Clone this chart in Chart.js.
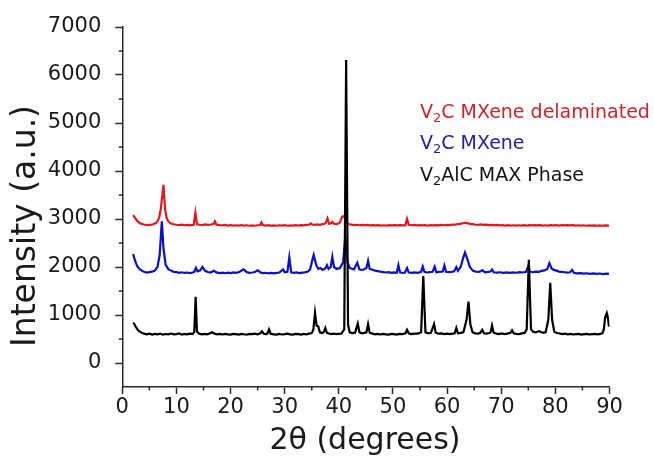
<!DOCTYPE html>
<html>
<head>
<meta charset="utf-8">
<script src="https://cdn.jsdelivr.net/npm/chart.js@4"></script>
<style>
  html, body { margin: 0; padding: 0; background: #fff; }
  canvas { display: block; }
</style>
</head>
<body>
<canvas id="xrd" width="654" height="459"></canvas>
<script>
// XRD patterns as [2θ (degrees), intensity (a.u.)] pairs, one list per sample.

// V2AlC MAX phase
const maxPattern = [
  [2.0,840],[2.2,815],[2.4,770],[2.6,735],[2.8,700],[3.0,672],[3.3,648],[3.6,628],[4.0,612],[4.5,598],
  [5.0,610],[5.5,592],[6.0,606],[6.5,596],[7.0,612],[7.5,590],[8.0,604],[8.5,597],[9.0,614],[9.5,598],
  [10.0,603],[10.5,615],[11.0,594],[11.5,606],[12.0,598],[12.5,612],[13.0,605],[13.3,650],[13.55,1380],[13.8,650],
  [14.2,612],[14.7,598],[15.2,606],[15.7,596],[16.2,618],[16.6,640],[17.0,612],[17.5,598],[18.0,607],[18.5,594],
  [19.0,608],[19.5,598],[20.0,592],[20.5,606],[21.0,600],[21.5,591],[22.0,607],[22.5,599],[23.0,593],[23.5,608],
  [24.0,600],[24.5,612],[25.0,598],[25.5,620],[25.8,660],[26.1,612],[26.5,598],[26.8,612],[27.1,700],[27.4,610],
  [28.0,598],[28.5,592],[29.0,606],[29.5,594],[30.0,602],[30.5,612],[31.0,598],[31.5,592],[32.0,607],[32.5,600],
  [33.0,591],[33.5,606],[34.0,598],[34.5,612],[35.0,622],[35.3,700],[35.6,1050],[35.9,780],[36.2,760],[36.5,640],
  [36.9,625],[37.2,640],[37.5,730],[37.8,630],[38.2,615],[38.6,604],[39.0,612],[39.5,600],[40.0,608],[40.5,615],
  [41.0,700],[41.35,6310],[41.7,800],[42.0,640],[42.5,622],[43.0,632],[43.5,820],[43.8,640],[44.2,618],[44.7,628],
  [45.1,640],[45.4,810],[45.7,630],[46.2,612],[46.7,598],[47.2,607],[47.7,594],[48.2,606],[48.7,598],[49.2,592],
  [49.7,606],[50.2,600],[50.7,593],[51.2,607],[51.7,600],[52.3,620],[52.6,690],[52.9,620],[53.4,602],[54.0,610],
  [54.6,612],[55.2,640],[55.6,1810],[56.0,640],[56.5,618],[57.0,628],[57.6,810],[57.9,630],[58.4,612],[59.0,618],
  [59.5,604],[60.0,612],[60.5,600],[61.0,612],[61.4,620],[61.7,730],[62.0,620],[62.5,628],[63.0,640],[63.6,900],
  [63.95,1280],[64.3,800],[64.7,640],[65.2,618],[65.7,612],[66.1,626],[66.5,690],[66.8,620],[67.3,612],[67.8,626],
  [68.05,640],[68.3,780],[68.6,630],[69.1,612],[69.6,602],[70.1,616],[70.6,603],[71.1,612],[71.7,630],[72.0,680],
  [72.3,620],[72.8,608],[73.3,602],[73.8,616],[74.3,626],[74.7,700],[75.1,2150],[75.5,700],[75.9,650],[76.3,640],
  [76.7,652],[77.0,662],[77.4,640],[77.8,634],[78.2,642],[78.7,900],[79.05,1670],[79.4,900],[79.8,650],[80.3,626],
  [80.8,614],[81.3,603],[81.8,612],[82.3,598],[82.8,607],[83.3,594],[83.8,601],[84.3,607],[84.8,593],[85.3,601],
  [85.8,607],[86.3,594],[86.8,600],[87.3,606],[87.8,595],[88.3,606],[88.7,622],[88.95,700],[89.2,960],[89.35,1000],
  [89.5,1040],[89.7,950],[89.9,760]
];

// V2C MXene
const mxenePattern = [
  [2.0,2270],[2.2,2190],[2.4,2120],[2.6,2060],[2.8,2010],[3.0,1980],[3.3,1950],[3.6,1925],[4.0,1900],[4.5,1882],
  [5.0,1892],[5.5,1902],[6.0,1925],[6.5,2000],[6.9,2250],[7.3,2950],[7.6,2400],[8.0,2050],[8.5,1955],[9.0,1925],
  [9.5,1900],[10.0,1895],[10.5,1880],[11.0,1890],[11.5,1876],[12.0,1885],[12.5,1872],[13.0,1886],[13.3,1900],[13.6,1980],
  [13.9,1910],[14.4,1930],[14.8,2000],[15.3,1920],[15.8,1895],[16.3,1885],[16.9,1920],[17.5,1882],[18.0,1872],[18.5,1884],
  [19.0,1870],[19.5,1882],[20.0,1874],[20.5,1886],[21.0,1878],[21.6,1895],[22.4,1950],[23.0,1892],[23.5,1878],[24.0,1885],
  [24.5,1895],[25.0,1930],[25.6,1882],[26.0,1872],[26.5,1880],[27.0,1868],[27.5,1878],[28.0,1866],[28.5,1876],[29.0,1884],
  [29.7,1950],[30.0,1890],[30.5,1900],[30.85,2200],[31.2,1890],[31.7,1878],[32.2,1886],[32.7,1872],[33.2,1882],[33.7,1888],
  [34.3,1905],[34.7,1950],[35.0,2100],[35.35,2250],[35.8,2050],[36.2,1960],[36.6,1980],[37.0,1940],[37.5,1970],[37.8,2040],
  [38.1,1960],[38.5,2000],[38.8,2210],[39.1,2000],[39.6,1960],[40.2,1980],[40.8,2100],[41.2,2650],[41.6,2100],[42.0,1980],
  [42.4,1965],[42.8,1950],[43.4,2090],[43.8,1950],[44.2,1938],[44.6,1948],[45.1,1980],[45.4,2130],[45.7,1960],[46.2,1942],
  [46.7,1925],[47.2,1915],[47.7,1902],[48.2,1894],[48.7,1886],[49.2,1892],[49.7,1878],[50.2,1886],[50.7,1880],[51.0,2040],
  [51.3,1890],[51.8,1876],[52.2,1886],[52.6,1980],[52.9,1890],[53.4,1878],[54.0,1888],[54.6,1880],[55.2,1900],[55.5,2010],
  [55.8,1900],[56.3,1886],[56.8,1894],[57.3,1900],[57.7,2010],[58.0,1890],[58.5,1898],[59.2,1905],[59.5,2030],[59.8,1900],
  [60.3,1892],[60.8,1900],[61.3,1912],[61.7,2000],[62.0,1920],[62.5,2000],[63.0,2200],[63.3,2300],[63.7,2180],[64.2,2000],
  [64.8,1920],[65.3,1905],[65.8,1898],[66.2,1910],[66.5,1935],[67.0,1890],[67.6,1898],[68.0,1905],[68.3,1950],[68.6,1890],
  [69.2,1882],[69.8,1890],[70.4,1878],[71.0,1886],[71.6,1876],[72.2,1888],[72.8,1880],[73.4,1892],[74.0,1886],[74.6,1902],
  [75.0,2020],[75.3,1900],[75.9,1892],[76.5,1905],[77.0,1898],[77.5,1920],[78.0,1930],[78.5,1960],[78.9,2080],[79.3,1970],
  [79.7,1940],[80.2,1925],[80.7,1905],[81.2,1898],[81.7,1890],[82.2,1882],[82.7,1890],[83.1,1940],[83.4,1880],[84.0,1868],
  [84.6,1874],[85.2,1862],[85.8,1870],[86.4,1858],[87.0,1866],[87.6,1856],[88.2,1864],[88.8,1852],[89.4,1862],[89.9,1858]
];

// V2C MXene, delaminated
const delamPattern = [
  [2.0,3080],[2.2,3050],[2.4,3015],[2.6,2985],[2.8,2955],[3.0,2935],[3.3,2912],[3.6,2898],[4.0,2885],[4.5,2872],
  [5.0,2876],[5.4,2880],[5.8,2895],[6.2,2915],[6.5,2950],[6.8,3030],[7.1,3200],[7.6,3710],[7.9,3200],[8.2,3020],
  [8.5,2950],[9.0,2905],[9.5,2890],[10.0,2880],[10.5,2872],[11.0,2882],[11.5,2870],[12.0,2878],[12.5,2866],[13.2,2880],
  [13.5,3130],[13.8,2890],[14.3,2880],[14.8,2872],[15.3,2886],[15.8,2876],[16.4,2885],[16.9,2900],[17.1,2950],[17.4,2882],
  [17.9,2872],[18.5,2866],[19.0,2876],[19.5,2864],[20.0,2872],[20.5,2862],[21.0,2870],[21.5,2864],[22.0,2874],[22.5,2862],
  [23.0,2870],[23.5,2860],[24.0,2868],[24.5,2860],[25.0,2870],[25.5,2875],[25.7,2930],[26.0,2872],[26.5,2862],[27.0,2870],
  [27.5,2858],[28.0,2868],[28.5,2860],[29.0,2870],[29.5,2862],[30.0,2872],[30.5,2860],[31.0,2868],[31.5,2862],[32.0,2872],
  [32.5,2864],[33.0,2874],[33.5,2866],[34.0,2878],[34.5,2880],[34.8,2910],[35.1,2885],[35.6,2878],[36.0,2888],[36.5,2880],
  [37.0,2892],[37.3,2895],[37.6,2920],[37.9,3010],[38.2,2900],[38.5,2905],[38.8,2940],[39.1,2900],[39.5,2895],[39.9,2905],
  [40.2,2930],[40.6,3050],[41.0,3060],[41.4,2930],[41.8,2895],[42.3,2882],[42.8,2874],[43.3,2880],[43.8,2870],[44.3,2878],
  [44.8,2868],[45.3,2876],[45.8,2866],[46.3,2874],[46.8,2866],[47.3,2872],[47.8,2862],[48.3,2870],[48.8,2864],[49.3,2872],
  [49.8,2866],[50.3,2874],[50.8,2866],[51.3,2872],[51.8,2866],[52.3,2872],[52.6,3000],[52.9,2880],[53.4,2870],[53.9,2876],
  [54.4,2866],[54.9,2874],[55.4,2866],[55.9,2872],[56.4,2864],[56.9,2872],[57.4,2866],[57.9,2874],[58.4,2866],[58.9,2876],
  [59.4,2870],[59.9,2878],[60.4,2872],[60.9,2882],[61.4,2880],[61.9,2892],[62.4,2900],[62.9,2912],[63.3,2922],[63.7,2915],
  [64.2,2900],[64.7,2892],[65.2,2884],[65.7,2880],[66.2,2886],[66.7,2876],[67.2,2882],[67.7,2872],[68.2,2878],[68.7,2868],
  [69.2,2876],[69.7,2866],[70.2,2874],[70.7,2864],[71.2,2872],[71.7,2862],[72.2,2870],[72.7,2862],[73.2,2870],[73.7,2862],
  [74.2,2872],[74.7,2864],[75.2,2872],[75.7,2866],[76.2,2874],[76.7,2866],[77.2,2872],[77.7,2862],[78.2,2870],[78.7,2864],
  [79.2,2872],[79.7,2866],[80.2,2874],[80.7,2864],[81.2,2872],[81.7,2866],[82.2,2874],[82.7,2866],[83.2,2872],[83.7,2862],
  [84.2,2870],[84.7,2864],[85.2,2870],[85.7,2860],[86.2,2868],[86.7,2862],[87.2,2868],[87.7,2860],[88.2,2866],[88.7,2860],
  [89.2,2866],[89.9,2862]
];

// Axis ticks
const xMajorTicks = [0, 10, 20, 30, 40, 50, 60, 70, 80, 90];
const yMajorTicks = [0, 1000, 2000, 3000, 4000, 5000, 6000, 7000];

// Sample names: [main text, subscript, rest]
const sampleLabels = [
  ['V', '2', 'C MXene delaminated'],
  ['V', '2', 'C MXene'],
  ['V', '2', 'AlC MAX Phase']
];

const FONT = '"DejaVu Sans", "Liberation Sans", sans-serif';
const AXIS = '#2a2a2a';
const TEXT = '#1a1a1a';

function points(pattern) {
  return pattern.map(p => ({ x: p[0], y: p[1] }));
}

// short minor ticks halfway between the labelled ones
const minorTicks = {
  id: 'minorTicks',
  afterDraw(chart) {
    const { ctx, scales: { x, y } } = chart;
    ctx.save();
    ctx.strokeStyle = AXIS;
    ctx.lineWidth = 1.5;
    ctx.beginPath();
    for (let i = 0; i < xMajorTicks.length - 1; i++) {
      const px = x.getPixelForValue((xMajorTicks[i] + xMajorTicks[i + 1]) / 2);
      ctx.moveTo(px, y.bottom);
      ctx.lineTo(px, y.bottom + 3.5);
    }
    for (let i = 0; i < yMajorTicks.length - 1; i++) {
      const py = y.getPixelForValue((yMajorTicks[i] + yMajorTicks[i + 1]) / 2);
      ctx.moveTo(x.left, py);
      ctx.lineTo(x.left - 3.5, py);
    }
    ctx.stroke();
    ctx.restore();
  }
};

// axis titles
const axisTitles = {
  id: 'axisTitles',
  afterDraw(chart) {
    const { ctx } = chart;
    ctx.save();
    ctx.fillStyle = TEXT;
    ctx.textAlign = 'center';
    ctx.textBaseline = 'middle';
    ctx.font = '30px ' + FONT;
    ctx.fillText('2θ (degrees)', 365, 441);
    ctx.translate(26, 226);
    ctx.rotate(-Math.PI / 2);
    ctx.font = '33px ' + FONT;
    ctx.fillText('Intensity (a.u.)', 0, 0);
    ctx.restore();
  }
};

// sample names written in their line colours, with subscript digits
const sampleNames = {
  id: 'sampleNames',
  afterDraw(chart) {
    const { ctx } = chart;
    const colours = ['#c9262d', '#23239c', '#141414'];
    const rows = [113, 144, 176];
    const size = 19;
    ctx.save();
    ctx.textBaseline = 'middle';
    sampleLabels.forEach((parts, i) => {
      let px = 420;
      const py = rows[i];
      ctx.fillStyle = colours[i];
      ctx.font = size + 'px ' + FONT;
      ctx.fillText(parts[0], px, py);
      px += ctx.measureText(parts[0]).width;
      ctx.font = Math.round(size * 0.7) + 'px ' + FONT;
      ctx.fillText(parts[1], px, py + 6);
      px += ctx.measureText(parts[1]).width;
      ctx.font = size + 'px ' + FONT;
      ctx.fillText(parts[2], px, py);
    });
    ctx.restore();
  }
};

new Chart(document.getElementById('xrd'), {
  type: 'line',
  data: {
    datasets: [
      { label: 'V2AlC MAX Phase', data: points(maxPattern), borderColor: '#000000', borderWidth: 2.2, order: 0 },
      { label: 'V2C MXene', data: points(mxenePattern), borderColor: '#0a10c8', borderWidth: 2.2, order: 1 },
      { label: 'V2C MXene delaminated', data: points(delamPattern), borderColor: '#e3161c', borderWidth: 2.2, order: 2 }
    ]
  },
  options: {
    responsive: false,
    animation: false,
    devicePixelRatio: 1,
    layout: { padding: { left: 0, right: 44.5, top: 27, bottom: 0 } },
    elements: { point: { radius: 0 }, line: { tension: 0 } },
    plugins: { legend: { display: false }, tooltip: { enabled: false } },
    scales: {
      x: {
        type: 'linear',
        min: 0,
        max: 90,
        afterFit(scale) { scale.height = 72; },
        afterBuildTicks(scale) { scale.ticks = xMajorTicks.map(v => ({ value: v })); },
        ticks: { color: TEXT, font: { family: FONT, size: 21 }, padding: 1, maxRotation: 0, autoSkip: false,
                 callback: v => String(v) },
        grid: { drawOnChartArea: false, drawTicks: true, tickLength: 7, tickColor: AXIS, tickWidth: 1.5 },
        border: { display: true, color: AXIS, width: 1.5 }
      },
      y: {
        type: 'linear',
        min: -500,
        max: 7000,
        afterFit(scale) { scale.width = 122.3; },
        afterBuildTicks(scale) { scale.ticks = yMajorTicks.map(v => ({ value: v })); },
        ticks: { color: TEXT, font: { family: FONT, size: 21 }, padding: 14, callback: v => String(v) },
        grid: { drawOnChartArea: false, drawTicks: true, tickLength: 7, tickColor: AXIS, tickWidth: 1.5 },
        border: { display: true, color: AXIS, width: 1.5 }
      }
    }
  },
  plugins: [minorTicks, axisTitles, sampleNames]
});
</script>
</body>
</html>
